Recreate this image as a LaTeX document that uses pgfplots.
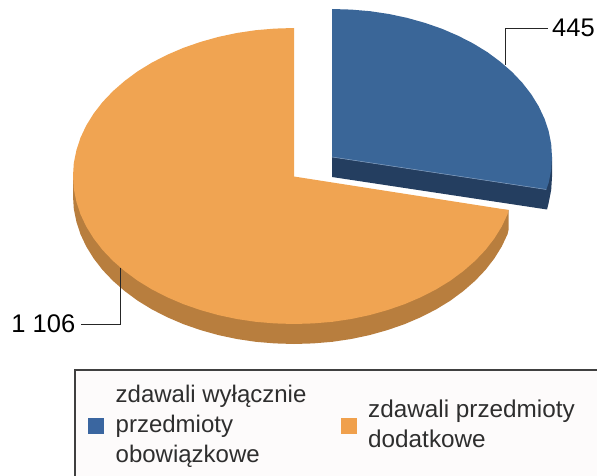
\documentclass[border=0pt]{standalone}
\usepackage{pgfplots}
\pgfplotsset{compat=1.18}
\usepackage{fontspec}
\setmainfont{Liberation Sans}
\definecolor{bluetop}{HTML}{3A6698}
\definecolor{blueside}{HTML}{243E60}
\definecolor{bluehair}{HTML}{8CA6C6}
\definecolor{orangetop}{HTML}{F0A452}
\definecolor{orangeside}{HTML}{B87E3E}
\definecolor{legbg}{HTML}{FDFBFB}
\definecolor{legline}{HTML}{404040}
\definecolor{legtext}{HTML}{2E2E2E}
\definecolor{legblue}{HTML}{3A66A0}
\definecolor{legorange}{HTML}{F0A04C}
\begin{document}
\begin{tikzpicture}[x=1pt,y=1pt]
\useasboundingbox (0,0) rectangle (597,476);
\begin{axis}[
  at={(0,0)}, anchor=south west,
  scale only axis, width=597pt, height=476pt,
  xmin=0, xmax=597, ymin=0, ymax=476, y dir=reverse,
  hide axis, clip=true,
]
% orange side
\addplot[fill=orangeside, draw=none] coordinates {
(508.5,210)(508.5,230)(507.5,234.3)(501.7,246.6)(494.3,258.5)(485.4,270)(475.0,280.9)(463.3,291.1)(450.3,300.7)(436.1,309.4)(420.8,317.2)(404.5,324.2)(387.4,330.1)(369.6,335.1)(351.2,339)(332.4,341.8)(313.3,343.4)(294,344)
(274.7,343.4)(255.6,341.8)(236.8,339)(218.4,335.1)(200.6,330.1)(183.5,324.2)(167.2,317.2)(151.9,309.4)(137.7,300.7)(124.7,291.1)(113.0,280.9)(102.6,270)(93.7,258.5)(86.3,246.6)(80.5,234.3)(76.4,221.7)(73.8,208.9)(73,196)(73,176)
} -- cycle;
% orange top
\addplot[fill=orangetop, draw=none] coordinates {
(294,176.5)(508.5,210)(507.5,214.3)(501.7,226.6)(494.3,238.5)(485.4,250)(475.0,260.9)(463.3,271.1)(450.3,280.7)(436.1,289.4)(420.8,297.2)(404.5,304.2)(387.4,310.1)(369.6,315.1)(351.2,319)(332.4,321.8)(313.3,323.4)(294,324)
(274.7,323.4)(255.6,321.8)(236.8,319)(218.4,315.1)(200.6,310.1)(183.5,304.2)(167.2,297.2)(151.9,289.4)(137.7,280.7)(124.7,271.1)(113.0,260.9)(102.6,250)(93.7,238.5)(86.3,226.6)(80.5,214.3)(76.4,201.7)(73.8,188.9)(73,176)
(73.8,163.1)(76.4,150.3)(80.5,137.7)(86.3,125.4)(93.7,113.5)(102.6,102)(113.0,91.1)(124.7,80.9)(137.7,71.3)(151.9,62.6)(167.2,54.8)(183.5,47.8)(200.6,41.9)(218.4,36.9)(236.8,33)(255.6,30.2)(274.7,28.6)(294,28)
} -- cycle;
% blue side
\addplot[fill=blueside, draw=none] coordinates {
(332,157)(332,177)(547,209.5)(548.7,202.7)(551.2,189.9)(552,177)(552,157)
} -- cycle;
% blue top
\addplot[fill=bluetop, draw=none] coordinates {
(332,157)(332,9)(351.2,9.6)(370.2,11.2)(388.9,14)(407.2,17.9)(425,22.9)(442,28.8)(458.2,35.8)(473.4,43.6)(487.6,52.3)(500.5,61.9)(512.2,72.1)(522.5,83)(531.4,94.5)(538.7,106.4)(544.5,118.7)(548.7,131.3)(551.2,144.1)(552,157)(551.2,169.9)(548.7,182.7)(546.3,189.5)
} -- cycle;
\addplot[draw=bluehair, line width=0.5pt] coordinates {(332,157)(546.3,189.5)};
% leader lines
\addplot[draw=black!85, line width=1pt] coordinates {(505.3,65)(505.3,28.3)(548,28.3)};
\addplot[draw=black!85, line width=1pt] coordinates {(120.7,268)(120.7,324)(80.5,324)};
% legend box
\addplot[fill=legbg, draw=legline, line width=1.6pt] coordinates {(75,490)(75,370)(610,370)(610,490)} -- cycle;
\addplot[fill=legblue, draw=none] coordinates {(88,418)(104,418)(104,433.5)(88,433.5)} -- cycle;
\addplot[fill=legorange, draw=none] coordinates {(340.5,418)(356.5,418)(356.5,433.5)(340.5,433.5)} -- cycle;
% data labels
\node[anchor=west, inner sep=0pt, font=\fontsize{25.5}{30}\selectfont] at (axis cs:552,28) {445};
\node[anchor=east, inner sep=0pt, font=\fontsize{25.5}{30}\selectfont] at (axis cs:75.5,324) {1 106};
% legend text
\begin{scope}[every node/.style={anchor=base west, inner sep=0pt, text=legtext, font=\fontsize{24}{28}\selectfont}]
\node at (axis cs:115.5,402.5) {zdawali wyłącznie};
\node at (axis cs:115.5,432) {przedmioty};
\node at (axis cs:115.5,462.5) {obowiązkowe};
\node[font=\fontsize{24.3}{28}\selectfont] at (axis cs:368,417.5) {zdawali przedmioty};
\node[font=\fontsize{24.3}{28}\selectfont] at (axis cs:368,447) {dodatkowe};
\end{scope}
\end{axis}
\end{tikzpicture}
\end{document}
